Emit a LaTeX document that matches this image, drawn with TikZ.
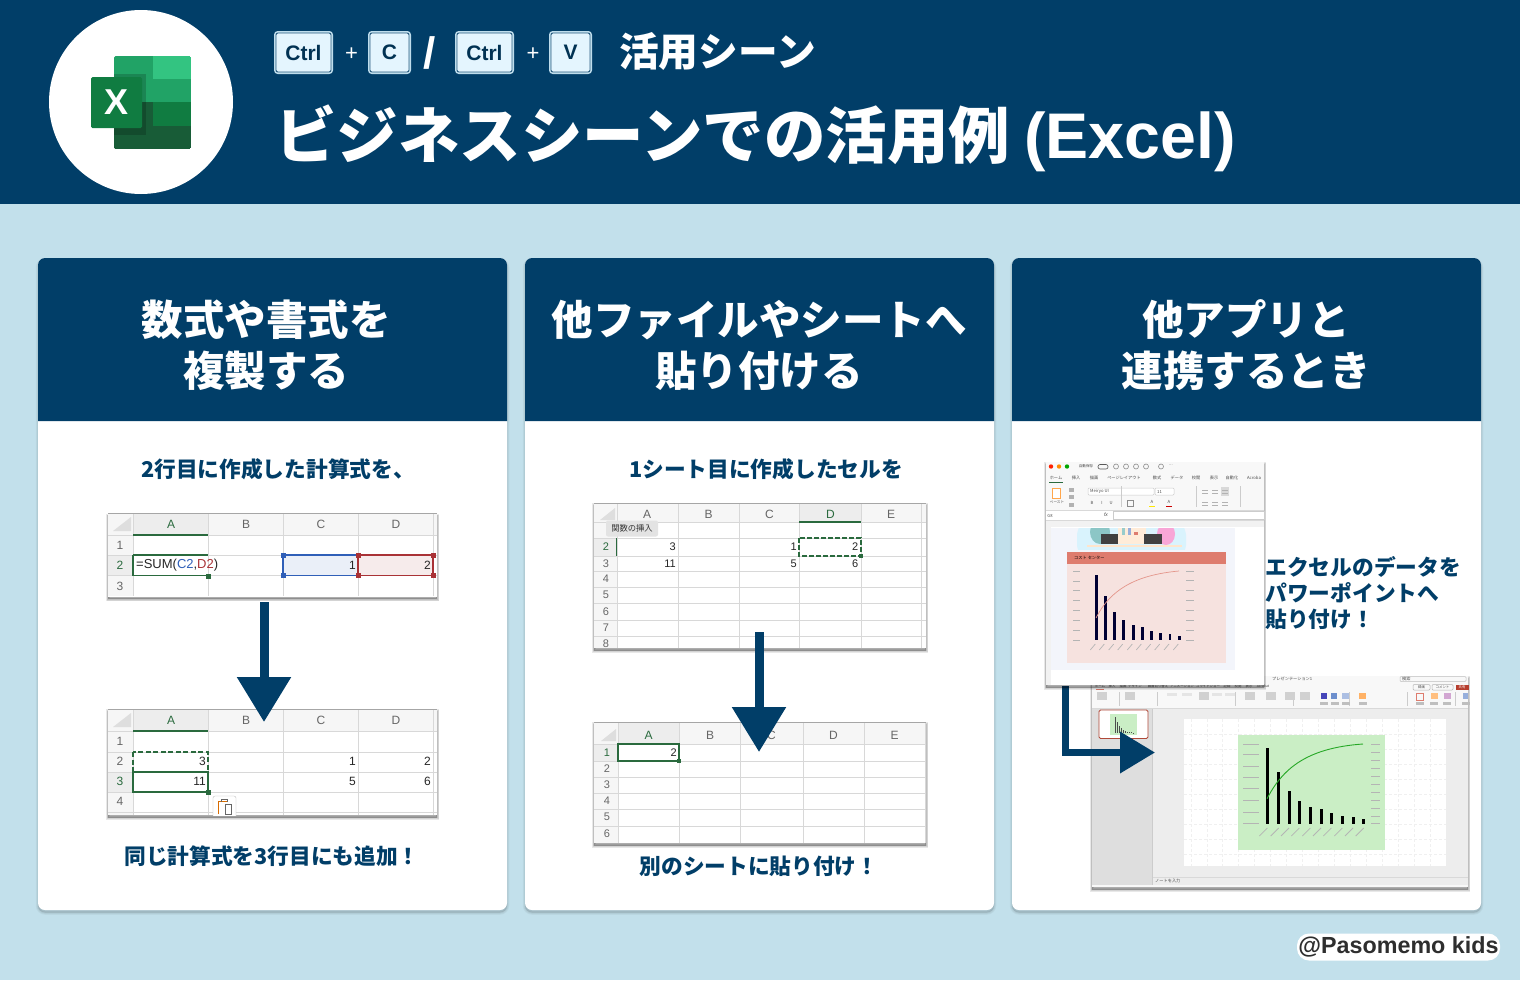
\documentclass[tikz,border=0pt]{standalone}
\usepackage{fontspec}
\setmainfont{Noto Sans CJK JP}
\newfontfamily\sheetfont{Liberation Sans}
\usetikzlibrary{arrows.meta}
\definecolor{navy}{HTML}{013E68}
\definecolor{skyback}{HTML}{C2E0EB}
\definecolor{keyfill}{HTML}{E4F5FE}
\definecolor{keyedge}{HTML}{BFDDEC}
\definecolor{cellgreen}{HTML}{2A6A3E}
\definecolor{gridgray}{HTML}{D8D8D8}
\definecolor{headgray}{HTML}{F6F6F6}
\definecolor{headsel}{HTML}{EDEDED}
\definecolor{refblue}{HTML}{2F5FB8}
\definecolor{refred}{HTML}{A93236}
\definecolor{chartred}{HTML}{DE7C6E}
\definecolor{chartpink}{HTML}{F6E2DF}
\definecolor{chartgreen}{HTML}{CAEEC5}
\definecolor{winback}{HTML}{F8F8F8}
\definecolor{tickgray}{HTML}{B4B4B4}
\tikzset{
	softshadow/.style={
		preaction={draw=black, fill=black, opacity=#1, line width=4.5pt, transform canvas={yshift=-2.5pt}},
		preaction={draw=black, fill=black, opacity=#1, line width=3pt, transform canvas={yshift=-2.5pt}},
		preaction={draw=black, fill=black, opacity=#1, line width=1.5pt, transform canvas={yshift=-2.5pt}}},
	cardbox/.style={rectangle, rounded corners=7pt, fill=white, minimum width=469, minimum height=652, softshadow=.035},
	keycap/.style={rectangle, rounded corners=2pt, fill=keyfill, draw=navy!85, line width=.9pt,
		preaction={draw=keyedge, line width=4pt}, minimum height=39, inner sep=0pt,
		text=navy!80!black, font=\sheetfont\fontsize{21}{24}\selectfont\bfseries},
	cardtitle/.style={align=center, text=white, font=\fontsize{41.5}{51}\selectfont\bfseries},
	notetext/.style={align=left, text=navy, font=\fontsize{21.7}{26}\selectfont\bfseries},
	sheetbox/.style={rectangle, fill=white, inner sep=0pt, softshadow=.09},
	gridline/.style={draw=gridgray, line width=.9pt},
	cellnum/.style={font=\sheetfont\fontsize{12}{14}\selectfont, inner sep=0pt, text=black!85},
	colname/.style={font=\sheetfont\fontsize{12}{14}\selectfont, inner sep=0pt, text=black!60},
	colsel/.style={font=\sheetfont\fontsize{12}{14}\selectfont, inner sep=0pt, text=cellgreen},
	bigarrow/.style={draw=navy, line width=9pt, -{Triangle[length=45pt, width=52pt]}},
	handle/.style={rectangle, minimum size=5, inner sep=0pt},
	tinytext/.style={inner sep=0pt, text=black!70, font=\fontsize{4.2}{5}\selectfont},
	axistick/.style={draw=tickgray, line width=1pt}
}
\begin{document}
\begin{tikzpicture}[x=1pt, y=-1pt]
	\useasboundingbox (0,0) rectangle (1520,980);
	\fill[skyback] (0,0) rectangle (1520,980);
	\fill[navy] (0,0) rectangle (1520,204);

	% logo
	\node[circle, fill=white, minimum size=184, inner sep=0pt] (logo) at (141,102) {};
	\begin{scope}
	\clip[rounded corners=1.5pt] (114,56) rectangle (191,149);
	\fill[fill={rgb,255:red,33;green,163;blue,102}] (114,56) rectangle (153,79);
	\fill[fill={rgb,255:red,51;green,196;blue,129}] (153,56) rectangle (191,79);
	\fill[fill={rgb,255:red,33;green,163;blue,102}] (114,79) rectangle (191,102);
	\fill[fill={rgb,255:red,24;green,92;blue,55}] (114,102) rectangle (153,126);
	\fill[fill={rgb,255:red,16;green,124;blue,65}] (153,102) rectangle (191,126);
	\fill[fill={rgb,255:red,24;green,92;blue,55}] (114,126) rectangle (191,149);
	\fill[black, opacity=.18] (114,74) rectangle (146,135);
	\end{scope}
	\node[rectangle, rounded corners=1.5pt, fill={rgb,255:red,16;green,124;blue,65}, minimum width=51, minimum height=51,
		inner sep=0pt, text=white, font=\sheetfont\fontsize{36}{38}\selectfont\bfseries] (logoX) at (116.5,102.5) {X};

	% shortcut keys
	\node[keycap, minimum width=55] (ctrlA) at (303.5,52.5) {Ctrl};
	\node[text=white, font=\sheetfont\fontsize{22}{24}\selectfont, inner sep=0pt] (plusA) at (351.5,54) {+};
	\node[keycap, minimum width=39] (keyC) at (389.5,52.5) {C};
	\node[text=white, font=\sheetfont\fontsize{44}{46}\selectfont\bfseries, inner sep=0pt] (slash) at (430,52.5) {/};
	\node[keycap, minimum width=55] (ctrlB) at (484.5,52.5) {Ctrl};
	\node[text=white, font=\sheetfont\fontsize{22}{24}\selectfont, inner sep=0pt] (plusB) at (533,54) {+};
	\node[keycap, minimum width=39] (keyV) at (570.5,52.5) {V};
	\node[anchor=west, text=white, inner sep=0pt, font=\fontsize{39.7}{44}\selectfont\bfseries] (subtitle) at (619,51) {活用シーン};
	\node[anchor=west, text=white, inner sep=0pt, font=\fontsize{61.5}{70}\selectfont\bfseries] (title) at (275,138) {ビジネスシーンでの活用例 {\sheetfont\fontsize{64.5}{70}\selectfont (Excel)}};

	% cards
	\node[cardbox] (cardA) at (272.5,584) {};
	\node[cardbox] (cardB) at (759.5,584) {};
	\node[cardbox] (cardC) at (1246.5,584) {};
	\fill[navy, rounded corners=7pt] (38,421) [sharp corners] -- (38,421) [rounded corners=7pt] -- (38,258) -- (507,258) [sharp corners] -- (507,421) -- cycle;
	\fill[navy, rounded corners=7pt] (525,421) [sharp corners] -- (525,421) [rounded corners=7pt] -- (525,258) -- (994,258) [sharp corners] -- (994,421) -- cycle;
	\fill[navy, rounded corners=7pt] (1012,421) [sharp corners] -- (1012,421) [rounded corners=7pt] -- (1012,258) -- (1481,258) [sharp corners] -- (1481,421) -- cycle;
	\node[cardtitle] (titleA) at (266,345) {数式や書式を\\複製する};
	\node[cardtitle] (titleB) at (759,345) {他ファイルやシートへ\\貼り付ける};
	\node[cardtitle] (titleC) at (1246,345) {他アプリと\\連携するとき};
	\node[notetext] (noteA) at (278,469) {2行目に作成した計算式を、};
	\node[notetext] (noteB) at (766,469) {1シート目に作成したセルを};
	\node[notetext] (noteC) at (272,856) {同じ計算式を3行目にも追加！};
	\node[notetext] (noteD) at (759,866) {別のシートに貼り付け！};

	% first sheet, formula
	\node[sheetbox, minimum width=329, minimum height=83] (sheetA) at (272.5,555) {};
	\fill[headgray] (108,514) rectangle (437,535);
	\fill[headgray] (108,535) rectangle (133,596);
	\fill[headsel] (133,514) rectangle (208,535);
	\fill[headsel] (108,555) rectangle (133,575.5);
	\fill[black!13] (113,531) -- (131,531) -- (131,517) -- cycle;
	\fill[refblue!10] (283,555) rectangle (358,575.5);
	\fill[refred!10] (358,555) rectangle (433,575.5);
	\foreach \c in {133,208,283,358,433} \draw[gridline] (\c,514) -- (\c,596);
	\foreach \r in {535,555,575.5} \draw[gridline] (108,\r) -- (437,\r);
	\draw[black!35, line width=1pt] (108,513.5) -- (437,513.5);
	\draw[cellgreen, line width=1.4pt] (133,535) -- (208,535);
	\draw[cellgreen, line width=1.6pt] (133,555) -- (208,555);
	\draw[cellgreen, line width=1.6pt] (133,555) -- (133,575.5) -- (208,575.5);
	\draw[refblue, line width=1.6pt] (283,555) rectangle (358,575.5);
	\draw[refred, line width=1.6pt] (358,555) rectangle (433,575.5);
	\foreach \c/\n in {246/B,321/C,396/D} \node[colname] (headA\n) at (\c,524.5) {\n};
	\node[colsel] (headAsel) at (171,524.5) {A};
	\foreach \r/\n in {545/1,586/3} \node[colname] (rowA\n) at (120,\r) {\n};
	\node[colsel] (rowA2) at (120,565.5) {2};
	\node[cellnum, anchor=west, font=\sheetfont\fontsize{13}{14}\selectfont] (formula) at (136,565.5) {=SUM(\textcolor{refblue}{C2},\textcolor{refred}{D2})};
	\node[cellnum, anchor=east] (cellAC) at (356,565.5) {1};
	\node[cellnum, anchor=east] (cellAD) at (431,565.5) {2};
	\node[handle, fill=cellgreen] (handA) at (208,576) {};
	\foreach \p/\q in {283/555,283/575.5} \node[handle, fill=refblue] (hb\p\q) at (\p,\q) {};
	\foreach \p/\q in {358/555,358/575.5,433/555,433/575.5} \node[handle, fill=refred] (hr\p\q) at (\p,\q) {};

	% second sheet, copied
	\node[sheetbox, minimum width=329, minimum height=106] (sheetB) at (272.5,762) {};
	\fill[headgray] (108,710) rectangle (437,731);
	\fill[headgray] (108,731) rectangle (133,815);
	\fill[headsel] (133,710) rectangle (208,731);
	\fill[headsel] (108,772) rectangle (133,792);
	\fill[black!13] (113,727) -- (131,727) -- (131,713) -- cycle;
	\foreach \c in {133,208,283,358,433} \draw[gridline] (\c,710) -- (\c,815);
	\foreach \r in {731,752,772,792,812} \draw[gridline] (108,\r) -- (437,\r);
	\draw[black!35, line width=1pt] (108,709.5) -- (437,709.5);
	\draw[cellgreen, line width=1.4pt] (133,731) -- (208,731);
	\draw[cellgreen, line width=1.6pt, dash pattern=on 5pt off 2.5pt] (133,752) rectangle (208,772);
	\draw[cellgreen, line width=1.6pt] (133,772) rectangle (208,792);
	\foreach \c/\n in {246/B,321/C,396/D} \node[colname] (headB\n) at (\c,720.5) {\n};
	\node[colsel] (headBsel) at (171,720.5) {A};
	\foreach \r/\n in {741.5/1,761.5/2,801.5/4} \node[colname] (rowB\n) at (120,\r) {\n};
	\node[colsel] (rowB3) at (120,781.5) {3};
	\foreach \c/\r/\n in {206/761.5/3,206/781.5/11,356/761.5/1,356/781.5/5,431/761.5/2,431/781.5/6}
		\node[cellnum, anchor=east] (cellB\c\n) at (\c,\r) {\n};
	\node[handle, fill=cellgreen] (handB) at (208,792) {};
	\begin{scope}
	\clip (200,790) rectangle (240,815);
	\draw[black!25, fill=white, rounded corners=2pt] (213,796) rectangle (236,825);
	\draw[orange!85!black, line width=1pt] (218,814) -- (218,801) -- (228,801);
	\draw[black!60, fill=white, line width=.8pt] (225,804) rectangle (231,814);
	\draw[black!60, line width=.7pt] (221,802) -- (221,799) -- (227,799) -- (227,802);
	\end{scope}

	% third sheet, source
	\node[sheetbox, minimum width=332, minimum height=145] (sheetC) at (760,575.5) {};
	\fill[headgray] (594,504) rectangle (926,522);
	\fill[headgray] (594,522) rectangle (617,648);
	\fill[headsel] (799,504) rectangle (861,522);
	\fill[headsel] (594,538) rectangle (617,556);
	\fill[black!13] (600,520) -- (615,520) -- (615,508) -- cycle;
	\foreach \c in {617,678,739,799,861,921} \draw[gridline] (\c,504) -- (\c,648);
	\foreach \r in {522,538,556,571,587,603,620,636} \draw[gridline] (594,\r) -- (926,\r);
	\draw[black!35, line width=1.2pt] (594,503.5) -- (926,503.5);
	\draw[cellgreen, line width=1.3pt] (799,522) -- (861,522);
	\draw[cellgreen, line width=1.3pt] (616.5,538) -- (616.5,556);
	\foreach \c/\n in {647/A,708.5/B,769.5/C,891/E} \node[colname] (headC\n) at (\c,514) {\n};
	\node[colsel] (headCD) at (830.5,514) {D};
	\foreach \r/\n in {563.5/3,579/4,595/5,611.5/6,628/7,644/8} \node[colname, font=\sheetfont\fontsize{11}{13}\selectfont] (rowC\n) at (606,\r) {\n};
	\node[colsel, font=\sheetfont\fontsize{11}{13}\selectfont] (rowC2) at (606,547) {2};
	\foreach \c/\r/\n in {676/547/3,676/563.5/11,797/547/1,797/563.5/5,858.5/547/2,858.5/563.5/6}
		\node[cellnum, anchor=east, font=\sheetfont\fontsize{11}{13}\selectfont] (cellC\c\n) at (\c,\r) {\n};
	\draw[cellgreen, line width=1.6pt, dash pattern=on 5pt off 2pt] (799,538) rectangle (861,556);
	\node[handle, fill=cellgreen, minimum size=4] (handC) at (861,556) {};
	\node[rectangle, rounded corners=2pt, fill=black!11, text=black!80, inner sep=0pt, minimum width=52, minimum height=16,
		font=\fontsize{8.3}{10}\selectfont] (tooltip) at (632,528.5) {関数の挿入};

	% fourth sheet, pasted
	\node[sheetbox, minimum width=332, minimum height=121] (sheetD) at (760,782.5) {};
	\fill[headgray] (594,723) rectangle (926,744);
	\fill[headgray] (594,744) rectangle (618,843);
	\fill[headsel] (618,723) rectangle (679,744);
	\fill[headsel] (594,744) rectangle (618,761);
	\fill[black!13] (601,741) -- (616,741) -- (616,729) -- cycle;
	\foreach \c in {618,679,740,803,864,925} \draw[gridline] (\c,723) -- (\c,843);
	\foreach \r in {744,761,777,793,809,826} \draw[gridline] (594,\r) -- (926,\r);
	\draw[black!35, line width=1.2pt] (594,722.5) -- (926,722.5);
	\foreach \c/\n in {710/B,771.5/C,833.5/D,894.5/E} \node[colname] (headD\n) at (\c,735.5) {\n};
	\node[colsel] (headDA) at (648.5,735.5) {A};
	\foreach \r/\n in {769/2,785/3,801/4,817/5,834/6} \node[colname, font=\sheetfont\fontsize{11}{13}\selectfont] (rowD\n) at (607,\r) {\n};
	\node[colsel, font=\sheetfont\fontsize{11}{13}\selectfont] (rowD1) at (607,752.5) {1};
	\draw[cellgreen, line width=1.3pt] (618,744) rectangle (679,761);
	\node[cellnum, anchor=east, font=\sheetfont\fontsize{11}{13}\selectfont] (cellD) at (677,752.5) {2};
	\node[handle, fill=cellgreen, minimum size=4] (handD) at (679,761) {};

	% arrows of the two sheets
	\coordinate (arrowAtop) at (264,602);
	\coordinate (arrowAend) at (264,722);
	\coordinate (arrowBtop) at (759,632);
	\coordinate (arrowBend) at (759,752);
	\draw[bigarrow] (arrowAtop) -- (arrowAend);
	\draw[bigarrow] (arrowBtop) -- (arrowBend);

	% powerpoint window
	\node[sheetbox, fill=winback, minimum width=376, minimum height=211] (pptWin) at (1280,781.5) {};
	\fill[black!7] (1092,708) rectangle (1468,885);
	\fill[black!13] (1092,708) rectangle (1152,885);
	\draw[black!20, line width=.8pt] (1152.5,708) -- (1152.5,885);
	\draw[black!15, line width=.6pt] (1092,708) -- (1468,708);
	\draw[black!15, line width=.6pt] (1153,877) -- (1468,877);
	\node[tinytext, anchor=west] (pptTitle) at (1272,679) {プレゼンテーション1};
	\node[tinytext, anchor=west] (pptFind) at (1402,679) {検索};
	\draw[black!25, line width=.5pt, rounded corners=1pt] (1400,676.5) rectangle (1466,681.5);
	\foreach \x/\t [count=\i] in {1100/ホーム,1112/挿入,1123/描画,1135/デザイン,1158/画面切り替え,1182/アニメーション,1208/スライドショー,1227/記録,1238/校閲,1249/表示,1263/Acrobat}
		\node[tinytext, font=\fontsize{3.4}{4}\selectfont] (pptMenu\i) at (\x,686.5) {\t};
	\draw[chartred, line width=.6pt] (1096,689) -- (1104,689);
	\draw[black!30, rounded corners=1pt, line width=.5pt] (1413,684.5) rectangle (1430,690);
	\draw[black!30, rounded corners=1pt, line width=.5pt] (1432,684.5) rectangle (1453,690);
	\node[tinytext, font=\fontsize{3.4}{4}\selectfont] (pptRec) at (1421.5,687.3) {録画};
	\node[tinytext, font=\fontsize{3.4}{4}\selectfont] (pptCom) at (1442.5,687.3) {コメント};
	\node[rectangle, fill=refred!85!orange, text=white, inner sep=0pt, minimum width=13, minimum height=5.5,
		font=\fontsize{3.4}{4}\selectfont] (pptShare) at (1462,687.3) {共有};
	\foreach \c in {1119,1157,1235,1293,1349,1407,1455} \draw[black!20, line width=.5pt] (\c,692) -- (\c,706);
	\foreach \c in {1097,1125,1199,1245,1266,1285,1300} \fill[black!18] (\c,692) rectangle ++(10,8);
	\foreach \c in {1167,1182,1212,1225} \fill[black!10] (\c,693) rectangle ++(10,3);
	\fill[blue!45!gray] (1321,693) rectangle (1327,699);
	\fill[refblue!70] (1331,693) rectangle (1337,699);
	\fill[refblue!40] (1342,693) rectangle (1349,699);
	\fill[orange!60] (1359,693) rectangle (1366,699);
	\draw[chartred, line width=.7pt] (1416,693) rectangle (1423,700);
	\fill[orange!50] (1431,693) rectangle (1438,699);
	\fill[violet!35] (1444,693) rectangle (1451,699);
	\fill[refblue!50] (1463,693) rectangle (1468,699);
	\foreach \c in {1320,1331,1342,1359,1416,1430,1443,1462} \fill[black!25] (\c,702) rectangle ++(8,2.5);
	\node[tinytext, anchor=west] (pptNote) at (1155,880.5) {ノートを入力};

	% thumbnail
	\draw[refred!70!brown, fill=white, line width=.9pt, rounded corners=1.5pt] (1099,710) rectangle (1148,738.5);
	\fill[chartgreen] (1110,714) rectangle (1137,735);
	\foreach \x/\t in {1115/717,1117/722,1119/726,1121/728,1123/730,1125/731,1127/731.5,1129/732,1131/732,1133/732.5}
		\fill[black!70] (\x,\t) rectangle ++(1,733-\t);

	% slide
	\node[rectangle, fill=white, inner sep=0pt, minimum width=262, minimum height=147] (slide) at (1315,792.5) {};
	\foreach \c in {1191,1207,1222,1238,1254,1270,1286,1302,1318,1334,1350,1366,1382,1398,1414,1430}
		\draw[black!6, line width=.5pt, densely dashed] (\c,719) -- (\c,866);
	\foreach \r in {734,749,764,779,794,809,824,839,854}
		\draw[black!6, line width=.5pt, densely dashed] (1184,\r) -- (1446,\r);
	\fill[chartgreen] (1238,735) rectangle (1385,850);
	\foreach \r in {744,754.5,766,777,788.5,800.5,812,823.7} \draw[axistick] (1243,\r) -- (1259,\r);
	\foreach \r in {744,752,760,768,776,784,792,800,808,816,823.7} \draw[axistick] (1371,\r) -- (1380,\r);
	\foreach \x/\t in {1267.3/747.7,1278.7/772,1289/791,1299.3/800.7,1310.3/807,1321/809.3,1331.3/813.3,1342.3/816,1353/816.7,1363.7/819.3} {
		\fill[black] ({\x-1.5},\t) rectangle ({\x+1.5},823.7);
		\draw[axistick, line width=.8pt] (\x,828) -- ({\x-8},836);
	}
	\draw[green!60!black!85, line width=.9pt] (1267,798.7) .. controls (1282,770) and (1305,748) .. (1363,744);

	% big bent arrow
	\coordinate (arrowCtop) at (1065,686);
	\coordinate (arrowCbend) at (1065,752.5);
	\coordinate (arrowCend) at (1155,752.5);
	\draw[draw=navy, line width=7pt, -{Triangle[length=35pt, width=40pt]}] (arrowCtop) -- (arrowCbend) -- (arrowCend);

	% excel window
	\node[sheetbox, minimum width=218, minimum height=223] (xlWin) at (1155,573.5) {};
	\fill[winback] (1046,462) rectangle (1264,510);
	\fill[black!5] (1046,520) rectangle (1264,527);
	\fill[black!5] (1046,527) rectangle (1051,685);
	\draw[black!15, line width=.5pt] (1046,510) -- (1264,510);
	\draw[black!15, line width=.5pt] (1046,520) -- (1264,520);
	\fill[red!75!orange] (1051,466.5) circle (2.2);
	\fill[orange!90!yellow] (1059,466.5) circle (2.2);
	\fill[green!65!black] (1067,466.5) circle (2.2);
	\node[tinytext, font=\fontsize{3.6}{4}\selectfont] (xlSave) at (1086,466.5) {自動保存};
	\draw[black!65, rounded corners=2pt, line width=.6pt] (1098,464.5) rectangle (1108,469);
	\foreach \c in {1116,1126,1136,1146,1161} \draw[black!45, line width=.6pt] (\c,466.5) circle (2.5);
	\node[tinytext] (xlMore) at (1171,465.5) {...};
	\foreach \x/\t [count=\i] in {1056/ホーム,1076/挿入,1094/描画,1124/ページレイアウト,1157/数式,1177/データ,1196/校閲,1214/表示,1232/自動化,1254/Acroba}
		\node[tinytext] (xlMenu\i) at (\x,478) {\t};
	\draw[cellgreen, line width=.8pt] (1049,482) -- (1063,482);
	\draw[orange!70, fill=white, line width=.7pt] (1052,488) rectangle (1060,498);
	\foreach \r in {488,495,503} \fill[black!30] (1069,\r) rectangle ++(5,4);
	\node[tinytext, font=\fontsize{3.6}{4}\selectfont] (xlPaste) at (1057,502.5) {ペースト};
	\draw[black!20, fill=white, line width=.5pt, rounded corners=1pt] (1088,488) rectangle (1154,495);
	\draw[black!20, fill=white, line width=.5pt, rounded corners=1pt] (1155,488) rectangle (1174,495);
	\node[tinytext, anchor=west] (xlFont) at (1090,491.5) {Meiryo UI};
	\node[tinytext, anchor=west] (xlSize) at (1157,491.5) {11};
	\foreach \x/\t [count=\i] in {1092/B,1102/I,1111/U} \node[tinytext] (xlStyle\i) at (\x,503) {\t};
	\draw[black!45, line width=.5pt] (1127,500) rectangle (1133,506);
	\fill[yellow!90!orange] (1149,505.5) rectangle (1155,507);
	\fill[red!80!black] (1166,505.5) rectangle (1172,507);
	\node[tinytext] (xlFill) at (1152,502) {A};
	\node[tinytext] (xlColor) at (1169,502) {A};
	\fill[black!15] (1221,487) rectangle (1229,496);
	\foreach \c in {1202,1212,1222} {
		\fill[black!30] (\c,490) rectangle ++(6,1);
		\fill[black!30] (\c,493) rectangle ++(6,1);
		\fill[black!30] (\c,502) rectangle ++(6,1);
		\fill[black!30] (\c,505) rectangle ++(6,1);
	}
	\foreach \c in {1121,1196,1240} \draw[black!20, line width=.5pt] (\c,486) -- (\c,507);
	\node[tinytext] (xlCell) at (1050,515.5) {G8};
	\draw[black!20, fill=white, line width=.5pt] (1113,511) rectangle (1264,519);
	\node[tinytext, font=\sheetfont\fontsize{5}{6}\selectfont\itshape] (xlFx) at (1106,515) {fx};

	% picture in the excel sheet
	\fill[refblue!6] (1051,528) rectangle (1235,670);
	\begin{scope}
	\clip (1077,528) rectangle (1186,549);
	\fill[cyan!15] (1131.5,540) ellipse (55 and 42);
	\fill[teal!45] (1100,532) ellipse (10 and 12);
	\fill[orange!15] (1118,528) rectangle (1146,544);
	\fill[teal!40] (1122,528) rectangle (1125,535);
	\fill[refblue!50] (1128,528) rectangle (1131,535);
	\fill[chartred] (1134,532) rectangle (1138,535);
	\fill[magenta!35] (1166,534) ellipse (9 and 11);
	\fill[black!75] (1101,534) rectangle (1118,544);
	\fill[black!75] (1144,534) rectangle (1162,544);
	\fill[orange!20] (1087,545) rectangle (1182,547);
	\end{scope}
	\fill[chartpink] (1067,552) rectangle (1226,663);
	\fill[chartred] (1067,552) rectangle (1226,564);
	\node[tinytext, anchor=west, text=black] (xlChart) at (1074,558) {コスト センター};
	\foreach \r in {571,581,590.5,600,610,620,630,640} \draw[axistick] (1073,\r) -- (1080,\r);
	\foreach \r in {571,580,590,600,610,620,630,640} \draw[axistick] (1186,\r) -- (1194,\r);
	\foreach \x/\t in {1096.3/575,1105.3/595.7,1114.7/611.7,1123.7/620.3,1133.3/625.3,1142.3/627.3,1151.7/631,1160.7/633,1170/633.7,1179.3/636} {
		\fill[black!80!blue] ({\x-1.3},\t) rectangle ({\x+1.3},640);
		\draw[axistick, line width=.7pt] ({\x-1},644) -- ({\x-6},650);
	}
	\draw[chartred!80, line width=.7pt] (1096,618) .. controls (1110,590) and (1135,575) .. (1179,571);

	\node[notetext, anchor=west] (noteE) at (1262,593) {エクセルのデータを\\パワーポイントへ\\貼り付け！};

	% tag
	\node[rectangle, rounded corners=12pt, fill=white, minimum width=203, minimum height=27, inner sep=0pt, text=black!82,
		font=\sheetfont\fontsize{23.3}{27}\selectfont\bfseries] (tag) at (1398.5,947) {@Pasomemo kids};
\end{tikzpicture}
\end{document}
